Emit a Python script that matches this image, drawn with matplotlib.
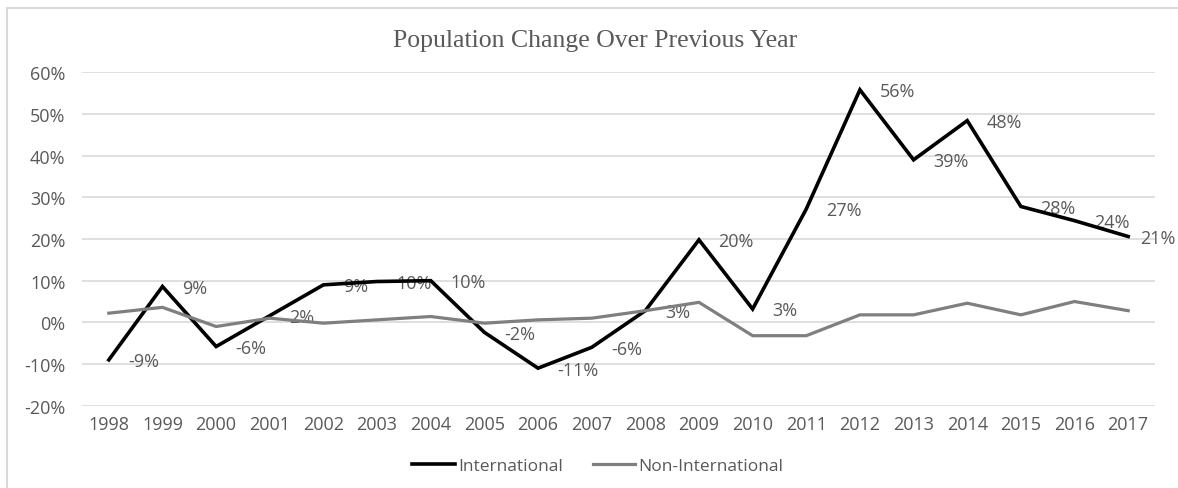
import numpy as np
import matplotlib
matplotlib.use("Agg")
from matplotlib import pyplot as plt
from matplotlib.patches import Rectangle
from matplotlib.ticker import FuncFormatter

years = [str(y) for y in range(1998, 2018)]

# percent change vs previous year
international = [-9.0, 8.6, -5.8, 1.6, 9.0, 9.8, 10.0, -2.4, -11.0, -6.0,
                 2.8, 19.8, 3.2, 27.2, 55.8, 39.0, 48.4, 27.8, 24.4, 20.6]
non_international = [2.2, 3.6, -1.0, 1.0, -0.2, 0.6, 1.4, -0.2, 0.6, 1.0,
                     2.8, 4.8, -3.2, -3.2, 1.8, 1.8, 4.6, 1.8, 5.0, 2.8]

text_grey = '#595959'
plt.rcParams['font.family'] = ['Open Sans', 'DejaVu Sans']

fig = plt.figure(figsize=(11.78, 4.89), dpi=100)
ax = fig.add_axes([82/1178, 1 - 406.7/489, (1155 - 82)/1178, (406.7 - 73.3)/489])

x = np.arange(len(years))
ax.plot(x, international, color='black', lw=2.6, label='International',
        zorder=3, solid_joinstyle='miter')
ax.plot(x, non_international, color='#7f7f7f', lw=2.3, label='Non-International',
        zorder=4, solid_joinstyle='miter')

# value labels to the right of each International point
# (last one pulled in so it stays inside the figure)
for xi, v in zip(x, international):
    dx = 14 if xi < len(years) - 1 else 8.5
    ax.annotate('{:.0f}%'.format(v), (xi, v), xytext=(dx, -1),
                textcoords='offset points', ha='left', va='center',
                fontsize=13, color=text_grey, zorder=2)

ax.set_xlim(-0.5, len(years) - 0.5)
ax.set_ylim(-20, 60)
ax.set_yticks(range(-20, 61, 10))
ax.yaxis.set_major_formatter(FuncFormatter(lambda v, p: '{:.0f}%'.format(v)))
ax.set_xticks(x)
ax.set_xticklabels(years)
ax.grid(axis='y', color='#d9d9d9', lw=1.2, zorder=0)
ax.tick_params(axis='both', length=0, labelsize=13, labelcolor=text_grey)
ax.tick_params(axis='y', pad=12)
ax.tick_params(axis='x', pad=7)
for s in ax.spines.values():
    s.set_visible(False)

fig.text(595/1178, 1 - 41/489, 'Population Change Over Previous Year',
         ha='center', va='center', fontsize=18.5, color=text_grey,
         family='Liberation Serif')

leg = fig.legend(loc='center', bbox_to_anchor=(598/1178, 1 - 467/489),
                 ncol=2, frameon=False, fontsize=12.5, handlelength=2.45,
                 handletextpad=0.2, columnspacing=1.7)
for t in leg.get_texts():
    t.set_color(text_grey)

# outer chart border
fig.patches.append(Rectangle((7/1178, -0.1), 1.2, 1 - 9/489 + 0.1,
                             transform=fig.transFigure, fill=False,
                             edgecolor='#d9d9d9', lw=1.5))

fig.savefig('out.png', dpi=100)
